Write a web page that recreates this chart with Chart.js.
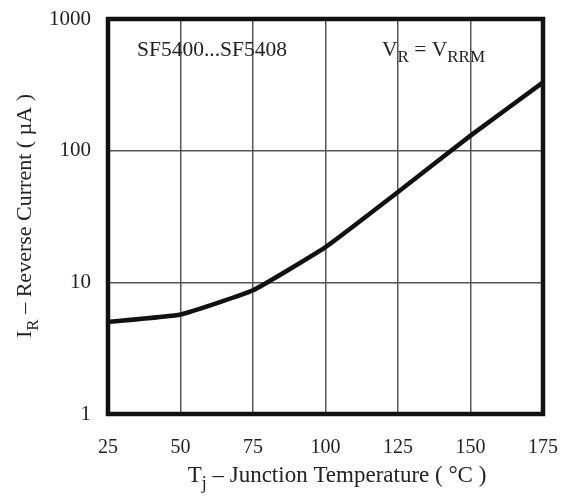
<!DOCTYPE html>
<html>
<head>
<meta charset="utf-8">
<script src="https://cdn.jsdelivr.net/npm/chart.js@4"></script>
<style>
  html, body { margin: 0; padding: 0; background: #fff; }
  #wrap { width: 561px; height: 496px; }
</style>
</head>
<body>
<div id="wrap"><canvas id="chart" width="561" height="496"></canvas></div>
<script>
// junction temperature (°C) and reverse current (µA)
const temps = [25, 50, 75, 100, 125, 150, 175];
const current = [5.0, 5.7, 8.7, 18.5, 48.5, 130, 330];
const yTicks = [1, 10, 100, 1000];

const FONT = '"Liberation Serif", "DejaVu Serif", serif';

// draws a run of [text, isSub] pieces starting at x
function drawRuns(ctx, runs, x, y, size, align) {
    const subSize = Math.round(size * 0.78);
    let total = 0;
    runs.forEach(r => {
        ctx.font = (r[1] ? subSize : size) + 'px ' + FONT;
        total += ctx.measureText(r[0]).width;
    });
    let cx = align === 'center' ? x - total / 2 : x;
    ctx.textAlign = 'left';
    ctx.textBaseline = 'alphabetic';
    runs.forEach(r => {
        ctx.font = (r[1] ? subSize : size) + 'px ' + FONT;
        ctx.fillText(r[0], cx, r[1] ? y + size * 0.3 : y);
        cx += ctx.measureText(r[0]).width;
    });
}

const framePlugin = {
    id: 'frame',
    afterDraw(chart) {
        const ctx = chart.ctx;
        const a = chart.chartArea;
        ctx.save();
        ctx.strokeStyle = '#111';
        ctx.lineWidth = 4.5;
        ctx.strokeRect(a.left, a.top, a.right - a.left, a.bottom - a.top);

        ctx.fillStyle = '#222';
        drawRuns(ctx, [['SF5400...SF5408', false]], 137, 56, 21.5, 'left');
        drawRuns(ctx, [['V', false], ['R', true], [' = V', false], ['RRM', true]], 382, 56, 21.5, 'left');

        // x axis title
        drawRuns(ctx, [['T', false], ['j', true], [' \u2013 Junction Temperature ( \u00B0C )', false]], 337, 482, 23, 'center');

        // y axis title, rotated
        ctx.translate(31, 216);
        ctx.rotate(-Math.PI / 2);
        drawRuns(ctx, [['I', false], ['R', true], [' \u2013 Reverse Current ( \u00B5A )', false]], 0, 0, 22, 'center');
        ctx.restore();
    }
};

new Chart(document.getElementById('chart').getContext('2d'), {
    type: 'line',
    data: {
        labels: temps,
        datasets: [{
            data: temps.map((t, i) => ({ x: t, y: current[i] })),
            borderColor: '#111',
            borderWidth: 4.5,
            pointRadius: 0,
            fill: false,
            tension: 0.12
        }]
    },
    options: {
        responsive: false,
        animation: false,
        layout: { padding: { top: 19, right: 18, left: 0, bottom: 0 } },
        plugins: {
            legend: { display: false },
            tooltip: { enabled: false }
        },
        scales: {
            x: {
                type: 'linear',
                min: 25,
                max: 175,
                afterFit(scale) {
                    scale.height = 82;
                    scale.paddingLeft = 0;
                    scale.paddingRight = 0;
                },
                ticks: {
                    stepSize: 25,
                    padding: 22,
                    color: '#222',
                    font: { family: FONT, size: 20 }
                },
                grid: { color: '#555', lineWidth: 1.5, drawTicks: false },
                border: { display: false }
            },
            y: {
                type: 'logarithmic',
                min: 1,
                max: 1000,
                afterFit(scale) {
                    scale.width = 108;
                    scale.paddingTop = 0;
                    scale.paddingBottom = 0;
                },
                afterBuildTicks(scale) {
                    scale.ticks = yTicks.map(v => ({ value: v, major: true }));
                },
                ticks: {
                    padding: 17,
                    color: '#222',
                    font: { family: FONT, size: 21 },
                    callback: v => String(v)
                },
                grid: { color: '#555', lineWidth: 1.5, drawTicks: false },
                border: { display: false }
            }
        }
    },
    plugins: [framePlugin]
});
</script>
</body>
</html>
